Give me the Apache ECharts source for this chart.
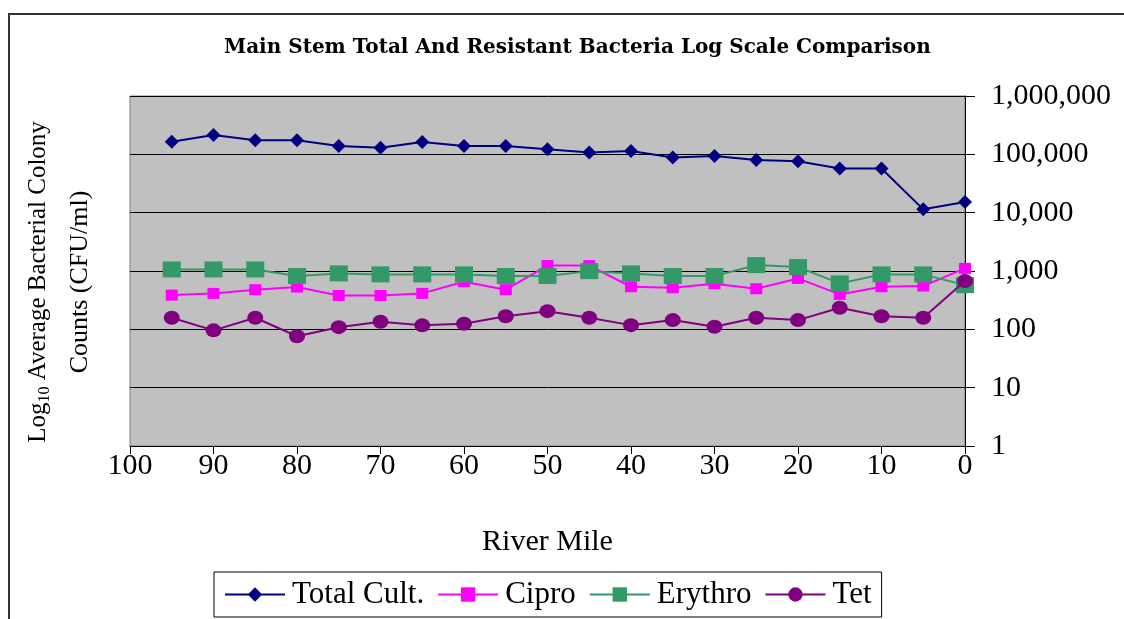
<!DOCTYPE html>
<html>
<head>
<meta charset="utf-8">
<script src="https://cdn.jsdelivr.net/npm/echarts@6/dist/echarts.min.js"></script>
<style>html,body{margin:0;padding:0;background:#fff;}#c{width:1124px;height:619px;}</style>
</head>
<body>
<div id="c"></div>
<script>
const riverMiles = [95, 90, 85, 80, 75, 70, 65, 60, 55, 50, 45, 40, 35, 30, 25, 20, 15, 10, 5, 0];
const totalCult = [165000, 214000, 174000, 174000, 139000, 130000, 163000, 139000, 139000, 122000, 107000, 114000, 88000, 94000, 80000, 76000, 57000, 57000, 11400, 15200];
const cipro = [386, 413, 478, 530, 381, 381, 413, 656, 478, 1240, 1240, 537, 516, 605, 497, 746, 397, 537, 551, 1110];
const erythro = [1064, 1064, 1064, 819, 910, 875, 875, 875, 819, 819, 995, 910, 819, 819, 1262, 1167, 612, 875, 875, 573];
const tet = [158, 96, 158, 76, 109, 135, 117, 125, 168, 205, 158, 118, 144, 111, 158, 144, 234, 168, 158, 671];
const seriesNames = ['Total Cult.', 'Cipro', 'Erythro', 'Tet'];
const titleText = 'Main Stem Total And Resistant Bacteria Log Scale Comparison';
const xAxisName = 'River Mile';

const pair = arr => riverMiles.map((m, i) => [m, arr[i]]);
const serif = 'Liberation Serif';

const chart = echarts.init(document.getElementById('c'), null, {renderer: 'canvas'});
chart.setOption({
  animation: false,
  backgroundColor: '#ffffff',
  title: {
    text: titleText,
    left: 219,
    top: 33,
    textStyle: {fontFamily: 'DejaVu Serif', fontWeight: 'bold', fontSize: 20, color: '#000'}
  },
  grid: {
    left: 130, right: 159, top: 96, bottom: 173,
    show: true, backgroundColor: '#C0C0C0', borderColor: '#808080', borderWidth: 1
  },
  xAxis: {
    type: 'value', min: 0, max: 100, interval: 10, inverse: true,
    name: xAxisName, nameLocation: 'middle', nameGap: 81,
    nameTextStyle: {fontFamily: serif, fontSize: 30, color: '#000'},
    axisLine: {show: true, onZero: false, lineStyle: {color: '#000', width: 1}},
    axisTick: {show: true, length: 8, lineStyle: {color: '#000'}},
    axisLabel: {fontFamily: serif, fontSize: 30, color: '#000', margin: 5},
    splitLine: {show: false}
  },
  yAxis: {
    type: 'log', logBase: 10, min: 1, max: 1000000, position: 'right',
    axisLine: {show: true, lineStyle: {color: '#000', width: 1}},
    axisTick: {show: true, length: 10, inside: false, lineStyle: {color: '#000'}},
    axisLabel: {fontFamily: serif, fontSize: 30, color: '#000', margin: 26,
      formatter: v => Math.round(v).toLocaleString('en-US')},
    splitLine: {show: true, lineStyle: {color: '#000', width: 1}},
    minorTick: {show: false}
  },
  legend: {
    data: seriesNames,
    left: 214, top: 572,
    itemWidth: 60, itemHeight: 18, itemGap: 13,
    padding: [7, 10, 7, 10],
    borderColor: '#000', borderWidth: 1,
    textStyle: {fontFamily: serif, fontSize: 31, color: '#000', padding: [0, 0, 0, 2]}
  },
  graphic: [
    {type: 'rect', shape: {x: 9, y: 14, width: 1300, height: 800}, style: {fill: 'none', stroke: '#333', lineWidth: 2}, silent: true},
    {type: 'text', x: 38, y: 282, rotation: Math.PI / 2,
      style: {text: '{a|Log}{s|10}{a| Average Bacterial Colony}', align: 'center', verticalAlign: 'middle',
        rich: {a: {fontFamily: serif, fontSize: 25, fill: '#000', verticalAlign: 'bottom'},
               s: {fontFamily: serif, fontSize: 16, fill: '#000', verticalAlign: 'bottom', padding: [0, 0, -2, 0]}}}},
    {type: 'text', x: 80, y: 282, rotation: Math.PI / 2,
      style: {text: 'Counts (CFU/ml)', align: 'center', verticalAlign: 'middle', fontFamily: serif, fontSize: 26, fill: '#000'}}
  ],
  series: [
    {name: seriesNames[0], type: 'line', data: pair(totalCult), symbol: 'diamond', symbolSize: [14, 14],
      lineStyle: {color: '#000080', width: 2}, itemStyle: {color: '#000080'}, z: 2},
    {name: seriesNames[1], type: 'line', data: pair(cipro), symbol: 'rect', symbolSize: [12, 11],
      lineStyle: {color: '#FF00FF', width: 2}, itemStyle: {color: '#FF00FF'}, z: 3},
    {name: seriesNames[2], type: 'line', data: pair(erythro), symbol: 'rect', symbolSize: [18, 16],
      lineStyle: {color: '#339966', width: 2}, itemStyle: {color: '#339966'}, z: 4},
    {name: seriesNames[3], type: 'line', data: pair(tet), symbol: 'circle', symbolSize: [16, 14],
      lineStyle: {color: '#800080', width: 2}, itemStyle: {color: '#800080'}, z: 5}
  ]
});
</script>
</body>
</html>
